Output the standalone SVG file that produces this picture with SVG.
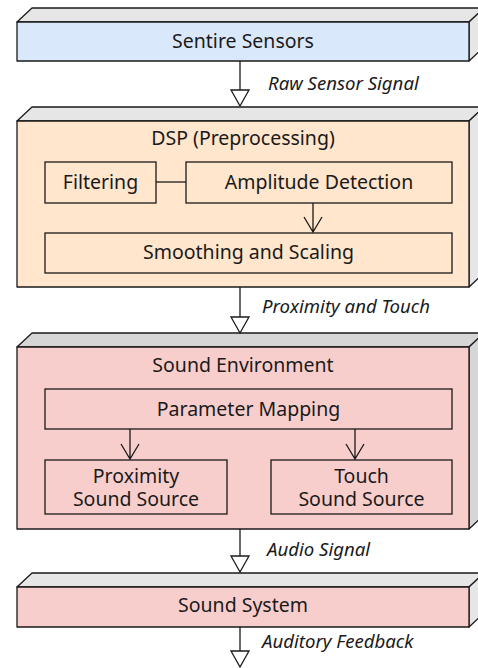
<svg xmlns="http://www.w3.org/2000/svg" width="478" height="668" viewBox="0 0 478 668">
<defs>
<style>
.face{stroke:#1a1a1a;stroke-width:1.3;stroke-linejoin:round}
.side{fill:#e6e6e6;stroke:#1a1a1a;stroke-width:1.3;stroke-linejoin:round}
.side2{fill:#d6d6d6;stroke:#1a1a1a;stroke-width:1.3;stroke-linejoin:round}
.inner{stroke:#1a1a1a;stroke-width:1.3}
.t{font-family:"Noto Sans","Open Sans",sans-serif;font-size:19.5px;fill:#1a1a1a;text-anchor:middle}
.l{font-family:"Noto Sans","Open Sans",sans-serif;font-size:18.6px;font-style:italic;fill:#1a1a1a}
.wire{stroke:#1a1a1a;stroke-width:1.3;fill:none}
.head{fill:#ffffff;stroke:#1a1a1a;stroke-width:1.3;stroke-linejoin:miter}
</style>
</defs>
<rect width="478" height="668" fill="#ffffff"/>

<g id="sentire-sensors">
<polygon class="side" points="17,22 32,8 484,8 469,22"/>
<polygon class="side" points="469,22 484,8 484,47 469,61"/>
<rect class="face" x="17" y="22" width="452" height="39" fill="#dae8fc"/>
<text class="t" x="243" y="48">Sentire Sensors</text>
</g>

<g id="dsp">
<polygon class="side" points="17,121 32,107 484,107 469,121"/>
<polygon class="side" points="469,121 484,107 484,273 469,287"/>
<rect class="face" x="17" y="121" width="452" height="166" fill="#ffe6cc"/>
<text class="t" x="243" y="145">DSP (Preprocessing)</text>
</g>
<g id="filtering">
<rect class="inner" x="45" y="162" width="111" height="41" fill="#ffe6cc"/>
<text class="t" x="100.5" y="189">Filtering</text>
</g>
<g id="amplitude-detection">
<rect class="inner" x="186" y="162" width="266" height="41" fill="#ffe6cc"/>
<text class="t" x="319" y="189">Amplitude Detection</text>
</g>
<g id="smoothing-scaling">
<rect class="inner" x="45" y="233" width="407" height="40" fill="#ffe6cc"/>
<text class="t" x="248.5" y="259">Smoothing and Scaling</text>
</g>

<g id="sound-environment">
<polygon class="side2" points="17,347 32,333 484,333 469,347"/>
<polygon class="side2" points="469,347 484,333 484,515 469,529"/>
<rect class="face" x="17" y="347" width="452" height="182" fill="#f8cecc"/>
<text class="t" x="243" y="372">Sound Environment</text>
</g>
<g id="parameter-mapping">
<rect class="inner" x="45" y="389" width="407" height="40" fill="#f8cecc"/>
<text class="t" x="248.5" y="416">Parameter Mapping</text>
</g>
<g id="proximity-sound-source">
<rect class="inner" x="45" y="460" width="182" height="54" fill="#f8cecc"/>
<text class="t" x="136" y="483">Proximity</text>
<text class="t" x="136" y="506">Sound Source</text>
</g>
<g id="touch-sound-source">
<rect class="inner" x="271" y="460" width="181" height="54" fill="#f8cecc"/>
<text class="t" x="361.5" y="483">Touch</text>
<text class="t" x="361.5" y="506">Sound Source</text>
</g>

<g id="sound-system">
<polygon class="side" points="17,587 32,573 484,573 469,587"/>
<polygon class="side" points="469,587 484,573 484,613 469,627"/>
<rect class="face" x="17" y="587" width="452" height="40" fill="#f8cecc"/>
<text class="t" x="243" y="612">Sound System</text>
</g>

<g id="connectors">
<line class="wire" x1="240" y1="61" x2="240" y2="90"/>
<polygon class="head" points="231,90 249,90 240,106"/>
<text class="l" x="268" y="90">Raw Sensor Signal</text>

<line class="wire" x1="156" y1="182" x2="186" y2="182"/>
<path class="wire" d="M313,203 V232 M304,217 L313,232 L322,217"/>

<line class="wire" x1="240" y1="287" x2="240" y2="317"/>
<polygon class="head" points="231,317 249,317 240,333"/>
<text class="l" x="262" y="313">Proximity and Touch</text>

<path class="wire" d="M130,429 V459 M121,444 L130,459 L139,444"/>
<path class="wire" d="M355,429 V459 M346,444 L355,459 L364,444"/>

<line class="wire" x1="240" y1="529" x2="240" y2="556"/>
<polygon class="head" points="231,556 249,556 240,572"/>
<text class="l" x="267" y="556">Audio Signal</text>

<line class="wire" x1="240" y1="627" x2="240" y2="651"/>
<polygon class="head" points="231,651 249,651 240,667"/>
<text class="l" x="262" y="648">Auditory Feedback</text>
</g>
</svg>
